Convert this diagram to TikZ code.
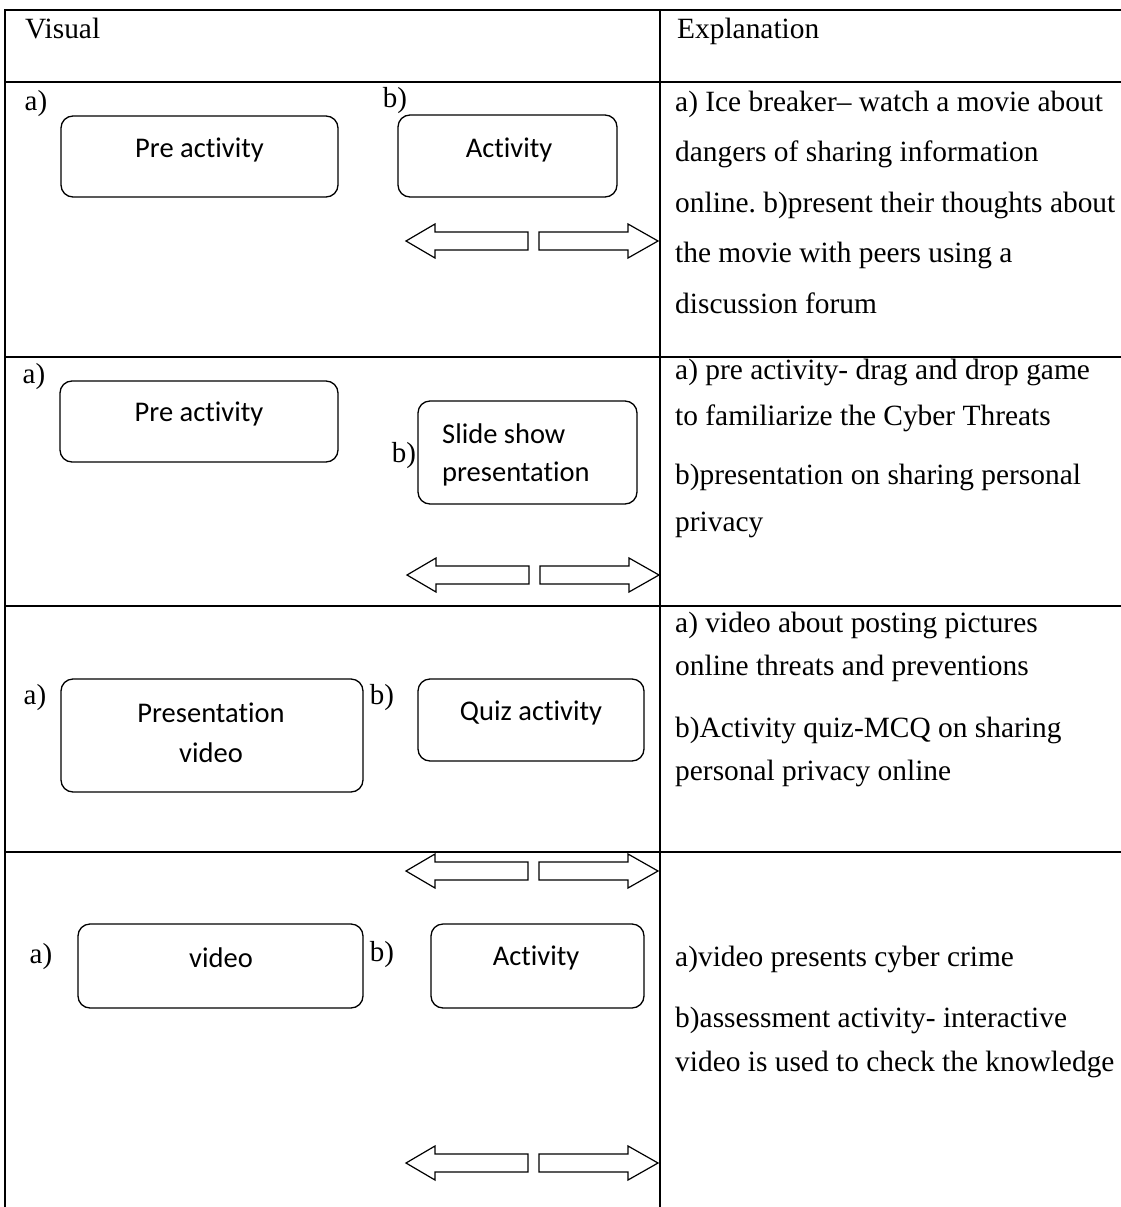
\documentclass[tikz,border=0pt]{standalone}
\usepackage{fontspec}
\setmainfont{Liberation Serif}
\newfontfamily\boxfont[RawFeature={-liga;-clig;-calt;-dlig}]{Carlito}
\frenchspacing
\begin{document}
\begin{tikzpicture}[x=1pt,y=-1pt,
  rule/.style={line width=1.7pt},
  card/.style={draw, line width=1.3pt, rounded corners=12pt, inner sep=0pt},
  cardtext/.style={font=\boxfont\fontsize{28.5}{#1}\selectfont, inner sep=0pt},
  cardtext/.default=38,
  lbl/.style={font=\fontsize{29}{34}\selectfont, inner sep=0pt},
  expl/.style={font=\fontsize{29.4}{34}\selectfont, anchor=base west, inner sep=0pt},
  pics/leftblock/.style={code={
    \draw[line width=1.2pt, fill=white, line join=miter]
      (0,0) -- (29,-17) -- (29,-9) -- (122,-9) -- (122,9) -- (29,9) -- (29,17) -- cycle;}},
  pics/rightblock/.style={code={
    \draw[line width=1.2pt, fill=white, line join=miter]
      (0,0) -- (-30,-17) -- (-30,-9) -- (-119,-9) -- (-119,9) -- (-30,9) -- (-30,17) -- cycle;}}
]
\useasboundingbox (0,0) rectangle (1120,1207);
\fill[white] (0,0) rectangle (1120,1207);

% table rules
\draw[rule] (5,10) -- (1125,10);
\draw[rule] (5,82) -- (1125,82);
\draw[rule] (5,357) -- (1125,357);
\draw[rule] (5,606) -- (1125,606);
\draw[rule] (5,852) -- (1125,852);
\draw[rule] (5,9.15) -- (5,1212);
\draw[rule] (660,9.15) -- (660,1212);

% header
\node[expl] (hvis) at (25,39) {Visual};
\node[expl] (hexp) at (677,39) {Explanation};

% ---- row 1 ----
\node[lbl] (r1a) at (36,104) {a)};
\node[card, minimum width=277pt, minimum height=81pt] (r1box1) at (199.5,156.5) {};
\node[cardtext] (r1t1) at (199.5,150) {Pre activity};
\node[lbl] (r1b) at (395,101) {b)};
\node[card, minimum width=219pt, minimum height=82pt] (r1box2) at (507.5,156) {};
\node[cardtext] (r1t2) at (509,150) {Activity};
\pic (r1l) at (406,241) {leftblock};
\pic (r1r) at (658,241) {rightblock};
\foreach \txt [count=\i] in {a) Ice breaker– watch a movie about,
    dangers of sharing information,
    online. b)present their thoughts about,
    the movie with peers using a,
    discussion forum}
  \node[expl] (e1-\i) at (675,{111+(\i-1)*50.5}) {\txt};

% ---- row 2 ----
\node[lbl] (r2a) at (34,377) {a)};
\node[card, minimum width=278pt, minimum height=81pt] (r2box1) at (199,421.5) {};
\node[cardtext] (r2t1) at (199,414) {Pre activity};
\node[lbl] (r2b) at (404,456) {b)};
\node[card, minimum width=219pt, minimum height=103pt] (r2box2) at (527.5,452.5) {};
\node[cardtext, align=left, anchor=west] (r2t2) at (442,455) {Slide show\\presentation};
\pic (r2l) at (407,575) {leftblock};
\pic (r2r) at (659,575) {rightblock};
\node[expl] (e2-1) at (675,379) {a) pre activity- drag and drop game};
\node[expl] (e2-2) at (675,425) {to familiarize the Cyber Threats};
\node[expl] (e2-3) at (675,484) {b)presentation on sharing personal};
\node[expl] (e2-4) at (675,531) {privacy};

% ---- row 3 ----
\node[lbl] (r3a) at (35,698) {a)};
\node[card, minimum width=302pt, minimum height=113pt] (r3box1) at (212,735.5) {};
\node[cardtext=40, align=center] (r3t1) at (211,733) {Presentation\\video};
\node[lbl] (r3b) at (382,698) {b)};
\node[card, minimum width=226pt, minimum height=82pt] (r3box2) at (531,720) {};
\node[cardtext] (r3t2) at (531,713) {Quiz activity};
\node[expl] (e3-1) at (675,632) {a) video about posting pictures};
\node[expl] (e3-2) at (675,675) {online threats and preventions};
\node[expl] (e3-3) at (675,737) {b)Activity quiz-MCQ on sharing};
\node[expl] (e3-4) at (675,780) {personal privacy online};

% ---- row 4 ----
\pic (r4l1) at (406,871) {leftblock};
\pic (r4r1) at (658,871) {rightblock};
\node[lbl] (r4a) at (41,957) {a)};
\node[card, minimum width=285pt, minimum height=84pt] (r4box1) at (220.5,966) {};
\node[cardtext] (r4t1) at (221,958) {video};
\node[lbl] (r4b) at (382,955) {b)};
\node[card, minimum width=213pt, minimum height=84pt] (r4box2) at (537.5,966) {};
\node[cardtext] (r4t2) at (536,958) {Activity};
\pic (r4l2) at (406,1163) {leftblock};
\pic (r4r2) at (658,1163) {rightblock};
\node[expl] (e4-1) at (675,966) {a)video presents cyber crime};
\node[expl] (e4-2) at (675,1027) {b)assessment activity- interactive};
\node[expl] (e4-3) at (675,1071) {video is used to check the knowledge};
\end{tikzpicture}
\end{document}
